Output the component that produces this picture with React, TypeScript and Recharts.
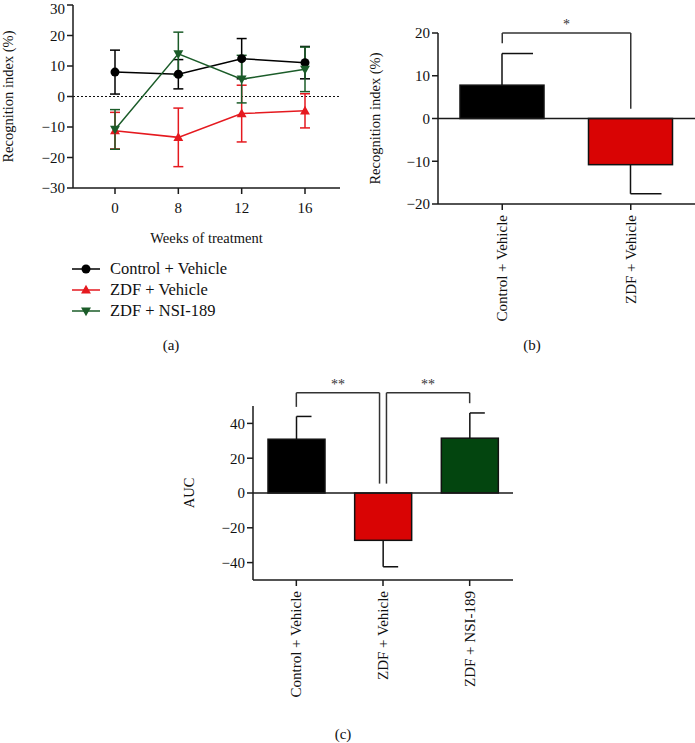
import React from "react";
import { LineChart, Line, BarChart, Bar, XAxis, YAxis, ErrorBar, ReferenceLine, Cell } from "recharts";

// (a) recognition index over weeks of treatment
const weeks = ["0", "8", "12", "16"];
const controlMean = [8.0, 7.3, 12.4, 11.1];
const controlSem = [7.2, 4.8, 6.6, 5.3];
const zdfMean = [-11.2, -13.4, -5.6, -4.7];
const zdfSem = [6.0, 9.6, 9.3, 5.6];
const nsiMean = [-10.8, 14.0, 5.7, 8.9];
const nsiSem = [6.5, 7.1, 7.8, 7.3];
const ticksA = [-30, -20, -10, 0, 10, 20, 30];
const seriesNames = ["Control + Vehicle", "ZDF + Vehicle", "ZDF + NSI-189"];

// (b) recognition index, two groups
const groupsB = ["Control + Vehicle", "ZDF + Vehicle"];
const meanB = [7.8, -10.8];
const semB = [7.4, 6.8];
const ticksB = [-20, -10, 0, 10, 20];

// (c) area under curve
const groupsC = ["Control + Vehicle", "ZDF + Vehicle", "ZDF + NSI-189"];
const meanC = [30.9, -27.2, 31.5];
const semC = [13.1, 15.2, 14.5];
const ticksC = [-40, -20, 0, 20, 40];

// significance brackets: group index (left/right), top of bracket, leg ends
const sigB = [{ from: 0, to: 1, top: 20, fromEnd: 17.6, toEnd: 2.3, text: "*" }];
const sigC = [
  { from: 0, to: 0.96, top: 57.6, fromEnd: 49.5, toEnd: 5.4, text: "**" },
  { from: 1.04, to: 2, top: 57.6, fromEnd: 5.4, toEnd: 51.6, text: "**" },
];

const FONT = '"Liberation Serif", "Times New Roman", serif';
const RED_LINE = "#e5191f";
const GREEN_LINE = "#1b5c29";
const lineKeys = ["control", "zdf", "nsi"];
const lineColors = ["#000000", RED_LINE, GREEN_LINE];
const barColorsB = ["#000000", "#d90404"];
const barColorsC = ["#000000", "#d90404", "#03450f"];
const AXIS = "#1a1a1a";

// panel layouts
const A = { w: 345, h: 330, m: { top: 5, right: 5, left: 5, bottom: 82 }, yw: 68, xh: 60 };
const B = { w: 335, h: 340, m: { top: 33, right: 0, left: 0, bottom: 0 }, yw: 78, xh: 136 };
const C = { w: 333, h: 383, m: { top: 46, right: 0, left: 0, bottom: 0 }, yw: 73, xh: 163 };
const midY = (p: typeof A) => p.m.top + (p.h - p.m.top - p.m.bottom - p.xh) / 2;

const lineData = weeks.map((w, i) => ({
  week: w,
  control: controlMean[i],
  controlErr: controlSem[i],
  zdf: zdfMean[i],
  zdfErr: zdfSem[i],
  nsi: nsiMean[i],
  nsiErr: nsiSem[i],
}));
const dataB = groupsB.map((g, i) => ({ group: g, mean: meanB[i], err: semB[i], pos: i + 0.5 }));
const dataC = groupsC.map((g, i) => ({ group: g, mean: meanC[i], err: semC[i], pos: i + 0.5 }));

const minus = (v: number) => String(v).replace("-", "\u2212");
const tickStyle = { fill: "#111", fontSize: 15, fontFamily: FONT };

const marker = (key: string, cx: number, cy: number, color: string, k?: any) => {
  const r = 4.5;
  if (key === "control") return <circle key={k} cx={cx} cy={cy} r={r} fill={color} />;
  if (key === "zdf")
    return (
      <polygon key={k} fill={color}
        points={`${cx},${cy - r * 1.15} ${cx - r * 1.1},${cy + r * 0.8} ${cx + r * 1.1},${cy + r * 0.8}`} />
    );
  return (
    <polygon key={k} fill={color}
      points={`${cx},${cy + r * 1.15} ${cx - r * 1.1},${cy - r * 0.8} ${cx + r * 1.1},${cy - r * 0.8}`} />
  );
};

const dotFor = (key: string, color: string) => (p: any) =>
  p.cx == null ? <g key={p.index} /> : marker(key, p.cx, p.cy, color, `${key}-${p.index}`);

// rotated y-axis title
const YTitle = ({ text, cx, cy }: any) => (
  <text x={cx} y={cy} transform={`rotate(-90, ${cx}, ${cy})`} textAnchor="middle" dominantBaseline="central"
    fill="#111" fontSize={14.5} fontFamily={FONT}>
    {text}
  </text>
);

// bar with one-sided error bar (stem away from zero, half cap to the right)
const barWithErr = (cap: number) => (props: any) => {
  const { x, y, width, height, fill, payload } = props;
  const v = payload.mean;
  const top = Math.min(y, y + height);
  const bot = Math.max(y, y + height);
  const ppu = Math.abs(height) / Math.abs(v || 1);
  const cx = x + width / 2;
  const start = v >= 0 ? top : bot;
  const end = v >= 0 ? top - payload.err * ppu : bot + payload.err * ppu;
  return (
    <g>
      <line x1={cx} y1={start} x2={cx} y2={end} stroke="#111" strokeWidth={1.5} />
      <line x1={cx} y1={end} x2={cx + cap} y2={end} stroke="#111" strokeWidth={1.5} />
      <rect x={x} y={top} width={width} height={bot - top} fill={fill} stroke="#111" strokeWidth={1.5} />
    </g>
  );
};

const RotTick = ({ x, y, payload }: any) => (
  <text x={x} y={y} transform={`rotate(-90, ${x}, ${y})`} textAnchor="end" dominantBaseline="central"
    fill="#111" fontSize={15} fontFamily={FONT}>
    {payload.value}
  </text>
);

const brackets = (list: typeof sigB) =>
  list.flatMap((s, i) => {
    const a = s.from + 0.5;
    const b = s.to + 0.5;
    const common = { xAxisId: "n", stroke: "#333", strokeWidth: 1.5, ifOverflow: "visible" as const };
    return [
      <ReferenceLine key={`t${i}`} {...common} segment={[{ x: a, y: s.top }, { x: b, y: s.top }]}
        label={{ value: s.text, position: "top", fill: "#333", fontSize: 14, fontFamily: FONT, offset: 4 }} />,
      <ReferenceLine key={`l${i}`} {...common} segment={[{ x: a, y: s.top }, { x: a, y: s.fromEnd }]} />,
      <ReferenceLine key={`r${i}`} {...common} segment={[{ x: b, y: s.top }, { x: b, y: s.toEnd }]} />,
    ];
  });

const panelLabel = (text: string, x: number, y: number) => (
  <div style={{ position: "absolute", left: x - 20, top: y - 10, width: 40, textAlign: "center",
    fontFamily: FONT, fontSize: 15, lineHeight: "20px", color: "#111" }}>{text}</div>
);

const LineLegend = () => (
  <div style={{ position: "absolute", left: 70, top: 258, fontFamily: FONT, fontSize: 16.5, color: "#111" }}>
    {lineKeys.map((k, i) => (
      <div key={k} style={{ display: "flex", alignItems: "center", height: 21 }}>
        <svg width={32} height={14}>
          <line x1={2} y1={7} x2={30} y2={7} stroke={lineColors[i]} strokeWidth={1.5} />
          {marker(k, 16, 7, lineColors[i])}
        </svg>
        <span style={{ marginLeft: 8, lineHeight: "21px", whiteSpace: "nowrap" }}>{seriesNames[i]}</span>
      </div>
    ))}
  </div>
);

export default function App() {
  return (
    <div style={{ position: "absolute", left: 0, top: 0, width: 695, height: 743, overflow: "hidden", background: "#fff" }}>
      <div style={{ position: "absolute", left: 0, top: 0 }}>
        <LineChart width={A.w} height={A.h} data={lineData} margin={A.m}>
          <XAxis dataKey="week" padding={{ left: 42, right: 35 }} tick={tickStyle} tickSize={6} tickMargin={8}
            height={A.xh} stroke={AXIS} strokeWidth={1.5} tickLine={{ stroke: AXIS, strokeWidth: 1.5 }}
            label={{ value: "Weeks of treatment", position: "insideBottom", offset: 5, fill: "#111", fontSize: 14.5, fontFamily: FONT }} />
          <YAxis domain={[-30, 30]} ticks={ticksA} tick={tickStyle} tickSize={6} tickFormatter={minus}
            width={A.yw} stroke={AXIS} strokeWidth={1.5} tickLine={{ stroke: AXIS, strokeWidth: 1.5 }}
            label={<YTitle text="Recognition index (%)" cx={8} cy={midY(A)} />} />
          <ReferenceLine y={0} stroke="#111" strokeWidth={1.2} strokeDasharray="2 2" />
          {lineKeys.map((k, i) => (
            <Line key={k} dataKey={k} name={seriesNames[i]} stroke={lineColors[i]} strokeWidth={1.5}
              dot={dotFor(k, lineColors[i])} activeDot={false} isAnimationActive={false}>
              <ErrorBar dataKey={`${k}Err`} width={5} stroke={lineColors[i]} strokeWidth={1.5} isAnimationActive={false} />
            </Line>
          ))}
        </LineChart>
        <LineLegend />
      </div>

      <div style={{ position: "absolute", left: 360, top: 0 }}>
        <BarChart width={B.w} height={B.h} data={dataB} margin={B.m} barSize={84}>
          <XAxis dataKey="group" tick={<RotTick />} tickSize={6} tickMargin={5} height={B.xh} interval={0}
            stroke={AXIS} strokeWidth={1.5} tickLine={{ stroke: AXIS, strokeWidth: 1.5 }} />
          <XAxis xAxisId="n" dataKey="pos" type="number" domain={[0, 2]} allowDataOverflow hide />
          <YAxis domain={[-20, 20]} ticks={ticksB} tick={tickStyle} tickSize={6} tickFormatter={minus}
            width={B.yw} stroke={AXIS} strokeWidth={1.5} tickLine={{ stroke: AXIS, strokeWidth: 1.5 }}
            label={<YTitle text="Recognition index (%)" cx={15} cy={midY(B)} />} />
          <Bar dataKey="mean" shape={barWithErr(31)} isAnimationActive={false}>
            {dataB.map((d, i) => <Cell key={d.group} fill={barColorsB[i]} />)}
          </Bar>
          <ReferenceLine y={0} stroke={AXIS} strokeWidth={1.5} />
          {brackets(sigB)}
        </BarChart>
      </div>

      <div style={{ position: "absolute", left: 180, top: 360 }}>
        <BarChart width={C.w} height={C.h} data={dataC} margin={C.m} barSize={57}>
          <XAxis dataKey="group" tick={<RotTick />} tickSize={6} tickMargin={5} height={C.xh} interval={0}
            stroke={AXIS} strokeWidth={1.5} tickLine={{ stroke: AXIS, strokeWidth: 1.5 }} />
          <XAxis xAxisId="n" dataKey="pos" type="number" domain={[0, 3]} allowDataOverflow hide />
          <YAxis domain={[-50, 50]} ticks={ticksC} tick={tickStyle} tickSize={6} tickFormatter={minus}
            width={C.yw} stroke={AXIS} strokeWidth={1.5} tickLine={{ stroke: AXIS, strokeWidth: 1.5 }}
            label={<YTitle text="AUC" cx={9} cy={midY(C)} />} />
          <Bar dataKey="mean" shape={barWithErr(15)} isAnimationActive={false}>
            {dataC.map((d, i) => <Cell key={d.group} fill={barColorsC[i]} />)}
          </Bar>
          <ReferenceLine y={0} stroke={AXIS} strokeWidth={1.5} />
          {brackets(sigC)}
        </BarChart>
      </div>

      {panelLabel("(a)", 171, 345)}
      {panelLabel("(b)", 532, 345)}
      {panelLabel("(c)", 343, 734)}
    </div>
  );
}
